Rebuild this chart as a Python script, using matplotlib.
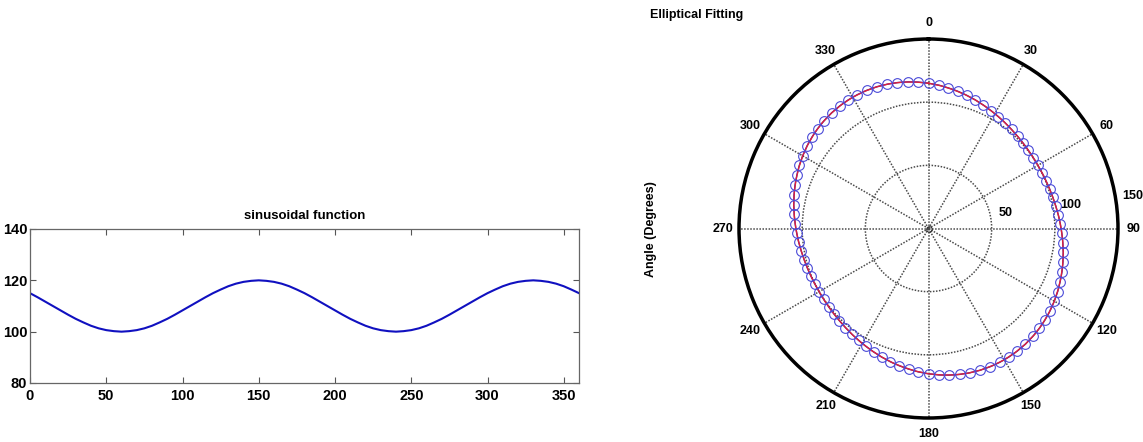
import numpy as np
import matplotlib
matplotlib.use("Agg")
import matplotlib.pyplot as plt

plt.rcParams["font.family"] = ["Liberation Sans", "DejaVu Sans"]
plt.rcParams["font.weight"] = "bold"

# sinusoidal function, sampled every 5 degrees
sin_x = np.arange(0, 361, 5)
sin_y = [115.0, 113.4, 111.7, 110.0, 108.3, 106.6, 105.0, 103.6, 102.3, 101.3,
         100.6, 100.2, 100.0, 100.2, 100.6, 101.3, 102.3, 103.6, 105.0, 106.6,
         108.3, 110.0, 111.7, 113.4, 115.0, 116.4, 117.7, 118.7, 119.4, 119.8,
         120.0, 119.8, 119.4, 118.7, 117.7, 116.4, 115.0, 113.4, 111.7, 110.0,
         108.3, 106.6, 105.0, 103.6, 102.3, 101.3, 100.6, 100.2, 100.0, 100.2,
         100.6, 101.3, 102.3, 103.6, 105.0, 106.6, 108.3, 110.0, 111.7, 113.4,
         115.0, 116.4, 117.7, 118.7, 119.4, 119.8, 120.0, 119.8, 119.4, 118.7,
         117.7, 116.4, 115.0]

# measured points on the polar plot, every 4 degrees
pts_deg = np.arange(0, 360, 4)
pts_r = [115.0, 113.8, 112.4, 111.1, 109.7, 108.3, 106.9, 105.6, 104.4, 103.3,
         102.3, 101.5, 100.9, 100.4, 100.1, 100.0, 100.1, 100.4, 100.9, 101.5,
         102.3, 103.3, 104.4, 105.6, 106.9, 108.3, 109.7, 111.1, 112.4, 113.8,
         115.0, 116.2, 117.2, 118.1, 118.8, 119.4, 119.8, 120.0, 120.0, 119.8,
         119.4, 118.8, 118.1, 117.2, 116.2,
         115.0, 113.8, 112.4, 111.1, 109.7, 108.3, 106.9, 105.6, 104.4, 103.3,
         102.3, 101.5, 100.9, 100.4, 100.1, 100.0, 100.1, 100.4, 100.9, 101.5,
         102.3, 103.3, 104.4, 105.6, 106.9, 108.3, 109.7, 111.1, 112.4, 113.8,
         115.0, 116.2, 117.2, 118.1, 118.8, 119.4, 119.8, 120.0, 120.0, 119.8,
         119.4, 118.8, 118.1, 117.2, 116.2]

theta_ticks = [0, 30, 60, 90, 120, 150, 180, 210, 240, 270, 300, 330]
r_ticks = [50, 100]

W, H = 1143, 442
fig = plt.figure(figsize=(W / 100, H / 100), dpi=100)

# --- left: sinusoidal function ---
ax = fig.add_axes([30 / W, 1 - 383 / H, 549 / W, 154 / H])
ax.plot(sin_x, sin_y, color="#1010c0", linewidth=1.5)
ax.set_xlim(0, 360)
ax.set_ylim(80, 140)
ax.set_xticks([0, 50, 100, 150, 200, 250, 300, 350])
ax.set_yticks([80, 100, 120, 140])
ax.tick_params(direction="in", top=True, right=True, length=4, width=0.8,
               color="#555555", labelsize=10.5)
ax.tick_params(axis="x", pad=4)
ax.tick_params(axis="y", pad=2)
for s in ax.spines.values():
    s.set_color("#666666")
    s.set_linewidth(0.9)
ax.set_title("sinusoidal function", fontsize=9.5, fontweight="bold", pad=7)

# --- right: polar plot ---
pax = fig.add_axes([739 / W, 1 - 418 / H, 379 / W, 379 / H], projection="polar")
pax.set_theta_zero_location("N")
pax.set_theta_direction(-1)
pax.set_ylim(0, 150)
pax.set_yticks(r_ticks)
pax.set_yticklabels([])
pax.set_xticks(np.deg2rad(theta_ticks))
pax.set_xticklabels([str(t) for t in theta_ticks], fontsize=9, fontweight="bold")
pax.tick_params(axis="x", pad=1)
pax.grid(True, linestyle=(0, (1, 1)), color="#4a4a4a", linewidth=1.1)
pax.spines["polar"].set_linewidth(2.5)
pax.spines["polar"].set_color("black")

pax.plot(np.deg2rad(np.append(pts_deg, 360)), np.append(pts_r, pts_r[0]),
         color="#2020b0", linewidth=1.0)
pax.plot(np.deg2rad(sin_x), sin_y, color="#e0203a", linewidth=1.0)
pax.plot(np.deg2rad(pts_deg), pts_r, linestyle="none", marker="o", markersize=7,
         markerfacecolor="none", markeredgecolor="#4a4ad8", markeredgewidth=0.8)
pax.plot([0], [0], marker="o", markersize=4, markerfacecolor="none",
         markeredgecolor="#333333", markeredgewidth=0.8)

# radial labels
for lab, th, r in [("50", 78.5, 62), ("100", 80.6, 114), ("150", 81, 163.5)]:
    pax.text(np.deg2rad(th), r, lab, ha="center", va="center", fontsize=9,
             fontweight="bold", clip_on=False)

fig.text(650 / W, 1 - 15 / H, "Elliptical Fitting", ha="left", va="center",
         fontsize=9, fontweight="bold")
fig.text(651 / W, 1 - 229 / H, "Angle (Degrees)", ha="center", va="center",
         rotation=90, fontsize=9, fontweight="bold")

fig.savefig("out.png", dpi=100)
